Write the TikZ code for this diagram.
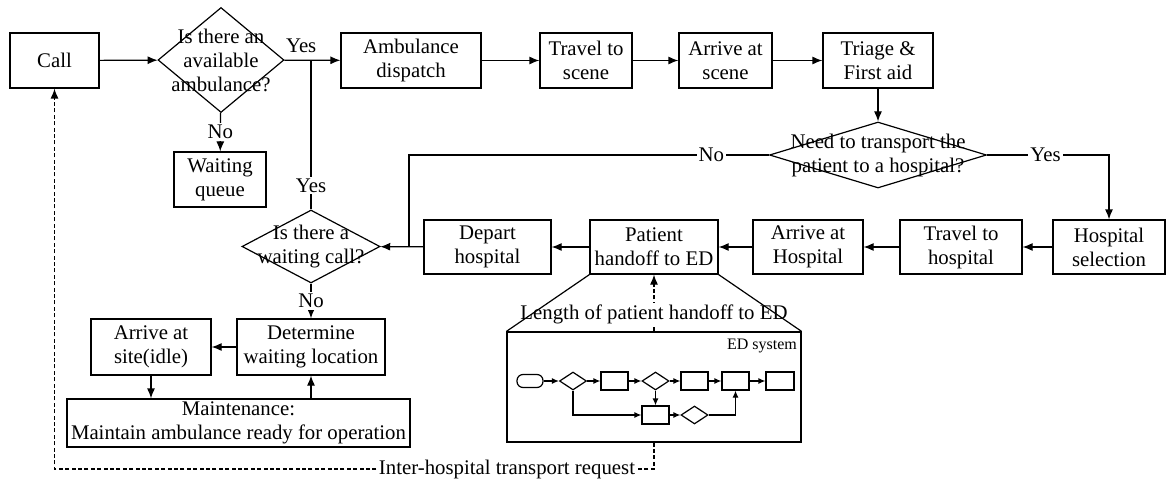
\documentclass[tikz,border=0pt]{standalone}
\usepackage{fontspec}
\setmainfont{Liberation Serif}
\usetikzlibrary{shapes.geometric, positioning, arrows.meta}

\tikzset{
  proc/.style={draw, rectangle, align=center, inner sep=1pt, minimum height=27.5pt},
  dec/.style={draw, diamond, inner sep=0pt},
  lab/.style={fill=white, inner sep=1pt},
  mini/.style={draw, rectangle, minimum width=13.5pt, minimum height=9pt, inner sep=0pt},
  minidec/.style={draw, diamond, minimum width=13.5pt, minimum height=9pt, inner sep=0pt},
  tip/.style={-{Latex[length=5pt, width=4pt]}},
  minitip/.style={-{Latex[length=3.5pt, width=3pt]}},
  dsh/.style={dash pattern=on 2pt off 1.2pt}
}

\begin{document}
\begin{tikzpicture}[x=0.5pt, y=-0.5pt, line width=0.6pt, font=\fontsize{10.4}{12}\selectfont]
\useasboundingbox (0,0) rectangle (1167,481);

% top row
\node[proc, minimum width=44.5pt] (call) at (54.5,60.5) {Call};
\node[dec, minimum width=63pt, minimum height=52.5pt,
    label={[align=center]center:Is there an\\available\\ambulance?}] (avail) at (221,60) {};
\node[proc, minimum width=46pt] (queue) at (220,179.5) {Waiting\\queue};
\node[proc, minimum width=70pt] (disp) at (411,60.5) {Ambulance\\dispatch};
\node[proc, minimum width=46pt] (tscene) at (586,60.5) {Travel to\\scene};
\node[proc, minimum width=46.5pt] (ascene) at (725.5,60.5) {Arrive at\\scene};
\node[proc, minimum width=55pt] (triage) at (878,60.5) {Triage \&\\First aid};
\node[dec, minimum width=108.5pt, minimum height=33pt,
    label={[align=center]center:Need to transport the\\patient to a hospital?}] (need) at (878,155) {};

% hospital row
\node[proc, minimum width=56pt, minimum height=27pt] (hsel) at (1109,247) {Hospital\\selection};
\node[proc, minimum width=61pt, minimum height=27pt] (thosp) at (961,247) {Travel to\\hospital};
\node[proc, minimum width=55pt, minimum height=27pt] (ahosp) at (808,247) {Arrive at\\Hospital};
\node[proc, minimum width=64pt, minimum height=27pt] (handoff) at (654,247) {Patient\\handoff to ED};
\node[proc, minimum width=63.5pt, minimum height=27pt] (depart) at (487.5,247) {Depart\\hospital};
\node[dec, minimum width=69pt, minimum height=36.5pt,
    label={[align=center]center:Is there a\\waiting call?}] (wait) at (311,246.5) {};

% idle part
\node[proc, minimum width=74pt, minimum height=28pt] (loc) at (311,347) {Determine\\waiting location};
\node[proc, minimum width=60pt, minimum height=28pt] (site) at (151,347) {Arrive at\\site(idle)};
\node[proc, minimum width=171.5pt, minimum height=24pt, inner sep=0.5pt] (maint) at (238.5,423)
    {Maintenance:\\Maintain ambulance ready for operation};

% ED system
\node[draw, minimum width=147pt, minimum height=55pt] (edsys) at (654,387) {};
\node[font=\footnotesize] (edlab) at (762,346) {ED system};
\node[draw, rounded corners=3pt, minimum width=13pt, minimum height=6.5pt, inner sep=0pt] (term) at (530,381) {};
\node[minidec] (da) at (573,381) {};
\node[mini] (ba) at (614.5,381) {};
\node[minidec] (dc) at (655.5,381) {};
\node[mini] (bd) at (694.5,381) {};
\node[mini] (be) at (735.5,381) {};
\node[mini, minimum width=14pt] (bf) at (780,381) {};
\node[mini] (bg) at (655.5,415) {};
\node[minidec] (dh) at (694.5,415) {};

\node[lab] (req) at (507,469) {Inter-hospital transport request};

\coordinate (br) at (311,60);
\coordinate (nojoin) at (409,247);

% connectors
\draw[tip] (call) -- (avail);
\draw[tip] (avail) -- node[pos=0.3, above] {Yes} (disp);
\draw (wait.north) -- node[lab, pos=0.16] {Yes} (br);
\draw[tip] (avail) -- node[lab] {No} (queue);
\draw[tip] (disp) -- (tscene);
\draw[tip] (tscene) -- (ascene);
\draw[tip] (ascene) -- (triage);
\draw[tip] (triage) -- (need);
\draw[tip] (need.east) -| node[lab, pos=0.24] {Yes} (hsel.north);
\draw (need.west) -| node[lab, pos=0.08] {No} (nojoin);
\draw[tip] (hsel) -- (thosp);
\draw[tip] (thosp) -- (ahosp);
\draw[tip] (ahosp) -- (handoff);
\draw[tip] (handoff) -- (depart);
\draw[tip] (depart) -- (wait);
\draw[tip] (wait) -- node[lab] {No} (loc);
\draw[tip] (loc) -- (site);
\draw[tip] (site.south) -- (site.south |- maint.north);
\draw[tip] (maint.north -| loc.south) -- (loc.south);

\draw[dsh, tip] (edsys.north) -- node[lab, pos=0.3] {Length of patient handoff to ED} (handoff.south);
\draw (handoff.south west) -- (edsys.north west);
\draw (handoff.south east) -- (edsys.north east);
\draw[dsh] (edsys.south) |- (req.east);
\draw[dsh, tip] (req.west) -| (call.south);

\draw[minitip] (term) -- (da);
\draw[minitip] (da) -- (ba);
\draw[minitip] (ba) -- (dc);
\draw[minitip] (dc) -- (bd);
\draw[minitip] (bd) -- (be);
\draw[minitip] (be) -- (bf);
\draw[minitip] (dc) -- (bg);
\draw[minitip] (da.south) |- (bg.west);
\draw[minitip] (bg) -- (dh);
\draw[minitip] (dh.east) -| (be.south);
\end{tikzpicture}
\end{document}
